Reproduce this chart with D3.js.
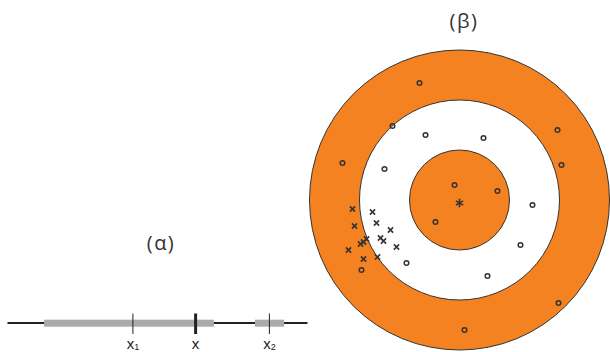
<!DOCTYPE html>
<html><head><meta charset="utf-8">
<script src="https://cdn.jsdelivr.net/npm/d3@7"></script>
<style>body{margin:0;background:#fff}svg{display:block}</style>
</head><body>
<svg id="c" width="610" height="352"></svg>
<script>
// ---- data ----
const panelTitles = ["(α)", "(β)"];
// (α) number line
const lineExtent = [0, 10];
const grayIntervals = [[1.22, 6.88], [8.25, 9.22]];
const tickValues = [4.18, 6.27, 8.73];
const tickNames = ["x", "x", "x"];
const tickSubs = ["1", "", "2"];
const tickBold = [false, true, false];
// (β) target
const ringRadii = [1.5, 1.0, 0.5];
const ringFills = ["#F58220", "#ffffff", "#F58220"];
const oX = [-0.40,-0.67,-0.34,0.24,0.98,1.02,-1.17,-0.75,-0.05,0.38,-0.24,0.73,0.61,-0.53,0.28,0.99,0.05,-0.98];
const oY = [1.17,0.74,0.65,0.62,0.70,0.35,0.37,0.31,0.15,0.09,-0.22,-0.05,-0.45,-0.63,-0.76,-1.03,-1.30,-0.70];
const xX = [-1.07,-0.87,-1.05,-0.83,-0.69,-0.79,-0.76,-0.93,-0.96,-0.99,-0.63,-1.11,-0.96,-0.82];
const xY = [-0.09,-0.12,-0.26,-0.23,-0.30,-0.38,-0.41,-0.39,-0.42,-0.44,-0.47,-0.50,-0.59,-0.57];
const starXY = [0.0, -0.03];

const svg = d3.select("#c");
const font = "'Open Sans', 'Noto Sans', sans-serif";

// ---- (α) ----
const lx = d3.scaleLinear().domain(lineExtent).range([7.5, 307.5]);
const ly = 323;
const ga = svg.append("g");
ga.append("line").attr("x1", lx(lineExtent[0])).attr("x2", lx(lineExtent[1]))
  .attr("y1", ly).attr("y2", ly).attr("stroke", "#222").attr("stroke-width", 2);
ga.selectAll("rect.iv").data(grayIntervals).join("rect").attr("class","iv")
  .attr("x", d => lx(d[0])).attr("width", d => lx(d[1]) - lx(d[0]))
  .attr("y", ly - 3.3).attr("height", 7).attr("fill", "#aaaaaa");
ga.selectAll("line.tk").data(tickValues).join("line").attr("class","tk")
  .attr("x1", d => lx(d)).attr("x2", d => lx(d))
  .attr("y1", ly - 9.5).attr("y2", ly + 11)
  .attr("stroke", "#222").attr("stroke-width", (d,i) => tickBold[i] ? 3 : 1);
const lbl = ga.selectAll("text.tl").data(tickValues).join("text").attr("class","tl")
  .attr("x", d => lx(d)).attr("y", 348.5)
  .attr("text-anchor", "middle").attr("font-family", "'Liberation Sans', Arial, sans-serif")
  .attr("font-size", 15).attr("fill", "#222");
lbl.append("tspan").text((d,i) => tickNames[i]);
lbl.append("tspan").attr("font-size", 9).attr("dy", 1.5).text((d,i) => tickSubs[i]);

svg.append("text").attr("x", 161).attr("y", 250).attr("text-anchor", "middle")
  .attr("font-family", font).attr("font-size", 20).attr("letter-spacing", 1.5)
  .attr("fill", "#333").text(panelTitles[0]);

// ---- (β) ----
const sx = d3.scaleLinear().domain([-1.5, 1.5]).range([309.5, 609.5]);
const sy = d3.scaleLinear().domain([1.5, -1.5]).range([50, 350]);
const gb = svg.append("g");
gb.selectAll("circle.ring").data(ringRadii).join("circle").attr("class","ring")
  .attr("cx", sx(0)).attr("cy", sy(0))
  .attr("r", d => sx(d) - sx(0))
  .attr("fill", (d,i) => ringFills[i]).attr("stroke", "#333").attr("stroke-width", 1);

const mk = "#333";
gb.selectAll("circle.o").data(oX).join("circle").attr("class","o")
  .attr("cx", (d) => sx(d)).attr("cy", (d,i) => sy(oY[i]))
  .attr("r", 2.3).attr("fill", "none").attr("stroke", mk).attr("stroke-width", 1.5);
const s = 2.6;
gb.selectAll("path.x").data(xX).join("path").attr("class","x")
  .attr("d", (d,i) => {
    const cx = sx(d), cy = sy(xY[i]);
    return `M${cx-s},${cy-s}L${cx+s},${cy+s}M${cx+s},${cy-s}L${cx-s},${cy+s}`;
  })
  .attr("stroke", mk).attr("stroke-width", 1.6).attr("fill", "none");
gb.append("path").attr("d", d3.symbol(d3.symbolAsterisk, 50)())
  .attr("transform", `translate(${sx(starXY[0])},${sy(starXY[1])})`)
  .attr("stroke", mk).attr("stroke-width", 1.6).attr("fill", "none");

svg.append("text").attr("x", 464).attr("y", 28).attr("text-anchor", "middle")
  .attr("font-family", font).attr("font-size", 20).attr("letter-spacing", 1.5)
  .attr("fill", "#333").text(panelTitles[1]);
</script>
</body></html>
